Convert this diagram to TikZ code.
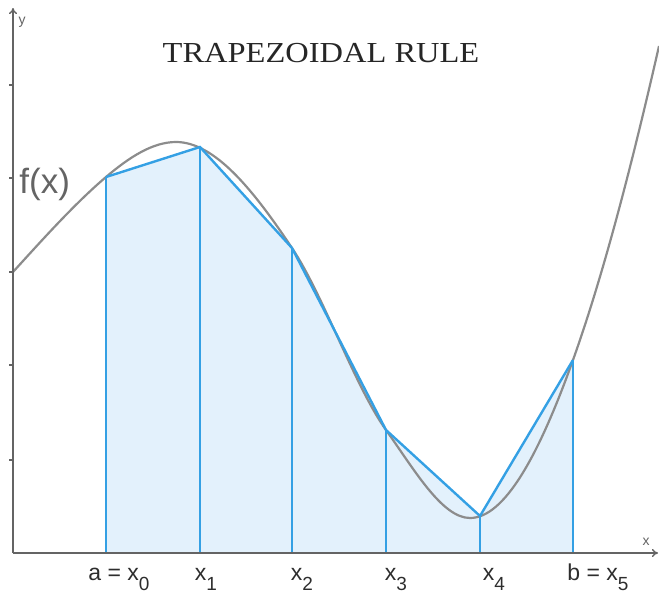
\documentclass[tikz,border=0pt]{standalone}
\usepackage{fontspec}
\setmainfont{Liberation Sans}
\newfontfamily\titlefont{Liberation Serif}
\usepackage{tikz}
\usetikzlibrary{arrows.meta}

\definecolor{trapblue}{RGB}{52,160,228}
\definecolor{trapfill}{RGB}{227,241,252}
\definecolor{curvegray}{RGB}{140,140,140}
\definecolor{axisgray}{RGB}{100,100,100}
\definecolor{labelgray}{RGB}{45,45,45}

\newcommand{\lowsub}[1]{\raisebox{-0.45em}{\fontsize{9.5}{10}\selectfont #1}}

\tikzset{
  axis line/.style={axisgray, line width=0.7pt, -{To[length=3pt,width=4pt]}},
  curve line/.style={curvegray, line width=1.1pt},
  trap line/.style={trapblue, line width=1.2pt},
  xlabel/.style={labelgray, font=\fontsize{11.5}{12}\selectfont, anchor=base, inner sep=0pt}
}

\begin{document}
\begin{tikzpicture}[x=0.5pt,y=-0.5pt]

\useasboundingbox (0,0) rectangle (659,595);

% ============================================
% 1. WEZLY
% ============================================
\coordinate (O) at (13,553);
\coordinate (P0) at (106,177);
\coordinate (P1) at (200,147);
\coordinate (P2) at (292,248);
\coordinate (P3) at (386,430);
\coordinate (P4) at (480,516);
\coordinate (P5) at (573,360);
\foreach \i/\xx in {0/106,1/200,2/292,3/386,4/480,5/573}
  \coordinate (B\i) at (\xx,553);

% ============================================
% 2. TRAPEZY
% ============================================
\fill[trapfill] (B0) -- (P0) -- (P1) -- (P2) -- (P3) -- (P4) -- (P5) -- (B5) -- cycle;

% ============================================
% 3. KRZYWA
% ============================================
\draw[curve line] (13,272)
  .. controls (44,237.9) and (75,203.4) .. (P0)
  .. controls (129.3,157.2) and (152.7,142) .. (176,142)
  .. controls (214.7,142) and (253.3,190) .. (P2)
  .. controls (323.3,295) and (354.7,386.1) .. (P3)
  .. controls (414,469.2) and (442,518) .. (470,518)
  .. controls (504.3,518) and (538.7,456) .. (P5)
  .. controls (601.7,279.7) and (630.3,172.1) .. (659,46);

% Krawedzie trapezow
\draw[trap line] (P0) -- (P1) -- (P2) -- (P3) -- (P4) -- (P5);
\foreach \i in {0,...,5}
  \draw[trap line] (B\i) -- (P\i);

% ============================================
% 4. OSIE
% ============================================
\draw[axis line] (O) -- (658,553);
\draw[axis line] (O) -- (13,8);
\foreach \yy in {85,178,272,365,460}
  \draw[axisgray, line width=0.6pt] (9,\yy) -- (13,\yy);
\node[axisgray, font=\fontsize{7}{8}\selectfont] (ylab) at (22,22) {y};
\node[axisgray, font=\fontsize{7}{8}\selectfont] (xlab) at (646,542) {x};

% ============================================
% 5. OPISY
% ============================================
\node[black!85, font=\titlefont\fontsize{14.5}{16}\selectfont, xscale=1.12, anchor=base, inner sep=0pt] (title) at (321,62) {TRAPEZOIDAL RULE};
\node[axisgray, font=\fontsize{17.5}{18}\selectfont, anchor=base west, inner sep=0pt] (fx) at (19,193) {f(x)};

\node[xlabel] (l0) at (119,580) {a = x\lowsub{0}};
\node[xlabel] (l1) at (206,580) {x\lowsub{1}};
\node[xlabel] (l2) at (302,580) {x\lowsub{2}};
\node[xlabel] (l3) at (396,580) {x\lowsub{3}};
\node[xlabel] (l4) at (494,580) {x\lowsub{4}};
\node[xlabel] (l5) at (598,580) {b = x\lowsub{5}};

\end{tikzpicture}
\end{document}
